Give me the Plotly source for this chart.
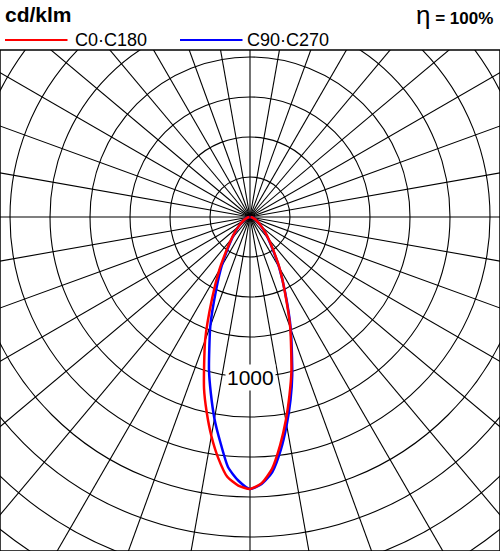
import numpy as np
import plotly.graph_objects as go

gamma = [0, 2.5, 5, 7.5, 10, 12.5, 15, 20, 25, 30, 35, 40, 45, 50, 60, 70, 80, 90]
c0    = [1700, 1665, 1580, 1440, 1290, 1140, 1000, 735, 515, 370, 255, 182, 132, 96, 50, 25, 10, 3]
c180  = [1700, 1680, 1630, 1520, 1390, 1250, 1110, 820, 560, 385, 258, 182, 132, 96, 50, 25, 10, 3]
c90   = [1700, 1670, 1600, 1470, 1320, 1170, 1020, 745, 520, 365, 248, 177, 130, 94, 50, 25, 10, 3]
c270  = [1700, 1650, 1570, 1420, 1280, 1130, 990, 725, 500, 355, 243, 174, 128, 93, 50, 25, 10, 3]
ring_values = [250, 500, 750, 1000, 1250, 1500, 1750, 2000, 2250, 2500, 2750, 3000]
ring_label = "1000"

def curve(left, right):
    g = np.radians(gamma)
    xl = -np.array(left) * np.sin(g); yl = -np.array(left) * np.cos(g)
    xr = np.array(right) * np.sin(g); yr = -np.array(right) * np.cos(g)
    return np.concatenate([xl[::-1], xr[1:]]), np.concatenate([yl[::-1], yr[1:]])

fig = go.Figure()
shapes = []
for r in ring_values:
    shapes.append(dict(type="circle", xref="x", yref="y", x0=-r, x1=r, y0=-r, y1=r,
                       line=dict(color="black", width=1.1), layer="below"))
R = 4000
for a in range(0, 360, 10):
    t = np.radians(a)
    shapes.append(dict(type="line", xref="x", yref="y", x0=0, y0=0,
                       x1=R*np.sin(t), y1=R*np.cos(t),
                       line=dict(color="black", width=1.1), layer="below"))
shapes.append(dict(type="rect", xref="paper", yref="paper", x0=0, x1=1, y0=0, y1=1,
                   line=dict(color="black", width=1.5)))
shapes.append(dict(type="line", xref="paper", yref="paper", x0=0.01, x1=0.135, y0=1.02, y1=1.02,
                   line=dict(color="#ff0000", width=2)))
shapes.append(dict(type="line", xref="paper", yref="paper", x0=0.36, x1=0.485, y0=1.02, y1=1.02,
                   line=dict(color="#0000ff", width=2)))

x, y = curve(c270, c90)
fig.add_trace(go.Scatter(x=x, y=y, mode="lines", line=dict(color="#0000ff", width=2.5, shape="spline", smoothing=0.6), hoverinfo="skip"))
x, y = curve(c180, c0)
fig.add_trace(go.Scatter(x=x, y=y, mode="lines", line=dict(color="#ff0000", width=2.5, shape="spline", smoothing=0.6), hoverinfo="skip"))

ann = [
    dict(x=0, y=-float(ring_label), xref="x", yref="y", text=ring_label, showarrow=False,
         font=dict(size=21, color="black", family="Liberation Sans, Arial"), bgcolor="white"),
    dict(x=0.005, y=1.07, xref="paper", yref="paper", xanchor="left", yanchor="middle",
         text="<b>cd/klm</b>", showarrow=False, font=dict(size=21, color="black", family="Liberation Sans, Arial")),
    dict(x=0.99, y=1.07, xref="paper", yref="paper", xanchor="right", yanchor="middle",
         text="<span style='font-size:26px'>η</span> <b>= 100%</b>", showarrow=False,
         font=dict(size=17, color="black", family="Liberation Sans, Arial")),
    dict(x=0.145, y=1.02, xref="paper", yref="paper", xanchor="left", yanchor="middle",
         text="C0·C180", showarrow=False, font=dict(size=18, color="black", family="Liberation Sans, Arial")),
    dict(x=0.49, y=1.02, xref="paper", yref="paper", xanchor="left", yanchor="middle",
         text="C90·C270", showarrow=False, font=dict(size=18, color="black", family="Liberation Sans, Arial")),
]

fig.update_layout(width=500, height=551, margin=dict(l=0, r=0, t=50, b=0),
                  paper_bgcolor="white", plot_bgcolor="white", showlegend=False,
                  shapes=shapes, annotations=ann,
                  xaxis=dict(range=[-1562.5, 1562.5], visible=False, fixedrange=True),
                  yaxis=dict(range=[-2087.5, 1043.75], visible=False, fixedrange=True))
fig.write_html("out.html", config={"displayModeBar": False},
               post_script="document.body.style.margin='0';document.body.style.overflow='hidden';")
